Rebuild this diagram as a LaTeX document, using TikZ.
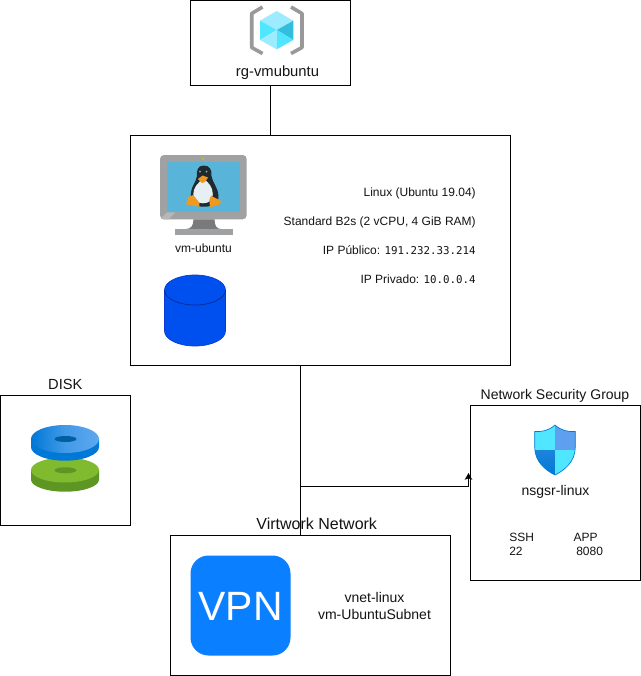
\documentclass[tikz,border=0pt]{standalone}
\usepackage{fontspec}
\setmainfont{Liberation Sans}
\newfontfamily\ipmono{DejaVu Sans Mono}
\usetikzlibrary{arrows.meta,calc}
\definecolor{cubeL}{HTML}{9CEBFF}
\definecolor{cubeM}{HTML}{50E6FF}
\definecolor{cubeD}{HTML}{32BEDD}
\definecolor{brk}{HTML}{999999}
\definecolor{mon}{HTML}{A0A1A2}
\definecolor{monL}{HTML}{B6B7B8}
\definecolor{monD}{HTML}{7A7A7A}
\definecolor{scr}{HTML}{59B4D9}
\definecolor{peng}{HTML}{1F2A30}
\definecolor{belly}{HTML}{E6F0F4}
\definecolor{pengO}{HTML}{EE9A22}
\definecolor{cylF}{HTML}{0050EF}
\definecolor{cylS}{HTML}{0A3AD0}
\definecolor{diskB}{HTML}{0078D7}
\definecolor{diskBL}{HTML}{5EA8EF}
\definecolor{diskH}{HTML}{005F9E}
\definecolor{diskG}{HTML}{7FBA2F}
\definecolor{diskGD}{HTML}{5E9624}
\definecolor{shA}{HTML}{50E6FF}
\definecolor{shB}{HTML}{5EA0EF}
\definecolor{shC}{HTML}{0078D4}
\definecolor{vpnB}{HTML}{0A7FFF}
\tikzset{
  boxnode/.style 2 args={draw=black,line width=0.75pt,fill=white,inner sep=0pt,outer sep=0pt,anchor=north west,
    minimum width=#1*0.75pt,minimum height=#2*0.75pt},
  lbl/.style={inner sep=0pt,anchor=base,text=black!92},
  lblL/.style={inner sep=0pt,anchor=base west,text=black!92},
  lblR/.style={inner sep=0pt,anchor=base east,text=black!92},
  fs12/.style={font=\fontsize{9}{10.8}\selectfont},
  fs14/.style={font=\fontsize{10.5}{12.6}\selectfont},
  fs16/.style={font=\fontsize{12}{14.4}\selectfont},
  wire/.style={draw=black,line width=0.75pt},
}
\begin{document}
\begin{tikzpicture}[x=0.75pt,y=-0.75pt]
\useasboundingbox[fill=white] (0,0) rectangle (641,676);
% boxes
\node[boxnode={160}{85}] (rg) at (190.5,0.5) {};
\node[boxnode={380}{230}] (vm) at (130.5,135.5) {};
\node[boxnode={130}{130}] (disk) at (0.5,395.5) {};
\node[boxnode={170}{175}] (nsg) at (470.5,405.5) {};
\node[boxnode={280}{140}] (vnet) at (170.5,535.5) {};
% connectors
\coordinate (vmout) at ($(vm.south)+(-20,0)$);
\coordinate (vnetin) at ($(vnet.north)+(-10,0)$);
\coordinate (junc) at ($(vmout)!0.71!(vnetin)$);
\coordinate (nsgin) at ($(nsg.west)+(-2,-20)$);
\draw[wire] (rg.south) -- (rg.south |- vm.north);
\draw[wire] (vmout) -- (vnetin);
\draw[wire,-{Stealth[length=5pt,width=5.5pt,inset=1pt]}] (junc) -| (nsgin);
% resource group icon
\fill[cubeL] (276.7,11) -- (293.3,20.7) -- (276.7,30) -- (260,20.7) -- cycle;
\fill[cubeM] (260,20.7) -- (276.7,30) -- (260,40) -- cycle;
\fill[cubeL] (260,40) -- (276.7,30) -- (276.7,49.3) -- cycle;
\fill[cubeD] (293.3,20.7) -- (293.3,40) -- (276.7,30) -- cycle;
\fill[cubeM] (293.3,40) -- (276.7,49.3) -- (276.7,30) -- cycle;
\draw[brk,line width=2.7pt,line join=round] (262.5,7) -- (251.7,13.5) -- (251.7,47.5) -- (262.5,53.5);
\draw[brk,line width=2.7pt,line join=round] (291,7) -- (302,13.5) -- (302,47.5) -- (291,53.5);
\node[lbl,font=\fontsize{11.1}{13}\selectfont] (rgt) at (277.5,76) {rg-vmubuntu};
% monitor icon
\fill[mon,rounded corners=3pt] (160,155) rectangle (246.7,219.3);
\fill[monL] (161,218.5) -- (167,212.3) -- (175,212.3) -- (169,219.3) -- (163,219.3) -- cycle;
\fill[scr] (166.7,162) rectangle (240,212.3);
\fill[yellow!70!green] (203,158.7) circle (1);
\fill[monD] (193.5,219.3) -- (214.5,219.3) .. controls (214.5,226) and (217,229) .. (221,229) -- (186,229) .. controls (190.5,229) and (193.5,226) .. (193.5,219.3) -- cycle;
\fill[mon] (175,229) rectangle (233,235);
% penguin
\fill[peng] (203.5,165.5) .. controls (197.5,165.5) and (196.5,171) .. (197,176) .. controls (196,183) and (190,187) .. (191,197) .. controls (191.5,203) and (195,206.7) .. (204,206.7) .. controls (213,206.7) and (219,203) .. (218.5,196) .. controls (218,187) and (212.5,183) .. (211.5,176) .. controls (212,170) and (210,165.5) .. (203.5,165.5) -- cycle;
\fill[belly] (203.5,179) .. controls (198,182) and (193.3,188) .. (193.3,194) .. controls (193.3,200) and (197,203.3) .. (203,203.3) .. controls (209,203.3) and (212.8,200) .. (212.8,194) .. controls (212.8,188) and (209,182) .. (203.5,179) -- cycle;
\fill[belly!70!black] (200,171.5) circle (1);
\fill[belly!70!black] (206.5,171.5) circle (1);
\fill[pengO] (198,179) -- (202.5,175.5) -- (208,177.5) -- (205,182) -- (202,183) -- cycle;
\fill[pengO] (193.3,195) -- (199.3,202.7) -- (199.3,206.7) -- (186,204.3) -- (188.3,197) -- cycle;
\fill[pengO] (211,195.7) -- (221.7,201.3) -- (218.3,205) -- (210,207.3) -- (209.3,200) -- cycle;
\node[lbl,fs12] (vmt) at (203.5,252.5) {vm-ubuntu};
% cylinder
\draw[cylS,fill=cylF,line width=0.5pt] (164.5,290) -- (164.5,331) arc[start angle=180,end angle=360,x radius=30.5,y radius=-15] -- (225.5,290) arc[start angle=0,end angle=-180,x radius=30.5,y radius=15] -- cycle;
\draw[cylS!70!black,line width=0.5pt] (164.5,290) arc[start angle=180,end angle=360,x radius=30.5,y radius=-15];
% vm details
\node[lblR,fs12] (l1) at (476,196.5) {Linux (Ubuntu 19.04)};
\node[lblR,fs12] (l2) at (476,225.5) {Standard B2s (2 vCPU, 4 GiB RAM)};
\node[lblR,fs12] (l3) at (476,254.5) {IP Público: {\ipmono\fontsize{8.1}{10}\selectfont 191.232.33.214}};
\node[lblR,fs12] (l4) at (476,283.5) {IP Privado: {\ipmono\fontsize{8.1}{10}\selectfont 10.0.0.4}};
% disk
\node[lbl,font=\fontsize{11}{13}\selectfont] (diskt) at (65.3,389) {DISK};
\fill[diskGD] (31,470) -- (31,479.7) arc[start angle=180,end angle=360,x radius=34,y radius=-12] -- (99,470) -- cycle;
\fill[diskG] (65,470) ellipse [x radius=34,y radius=12.5];
\fill[diskGD] (65.5,470.3) ellipse [x radius=11,y radius=3];
\fill[diskB] (31,439) -- (31,447) arc[start angle=180,end angle=360,x radius=34,y radius=-13.7] -- (99,439) -- cycle;
\shade[left color=diskB,right color=diskBL,middle color=diskBL!70!diskB] (65,439) ellipse [x radius=34,y radius=14];
\fill[diskH] (65.5,439) ellipse [x radius=11,y radius=3];
% shield
\begin{scope}
\clip (555,425) .. controls (549,430.5) and (542,432) .. (534.7,431.5) -- (534.7,447) .. controls (534.7,462) and (546,470.5) .. (555,475) .. controls (564,470.5) and (575.3,462) .. (575.3,447) -- (575.3,431.5) .. controls (568,432) and (561,430.5) .. (555,425) -- cycle;
\fill[shA] (530,420) rectangle (555,450);
\fill[shB] (555,420) rectangle (580,450);
\shade[top color=shC!70!shB,bottom color=shC] (530,450) rectangle (555,476);
\fill[shA] (555,450) rectangle (580,480);
\end{scope}
\draw[shC,line width=0.5pt] (555,425) .. controls (549,430.5) and (542,432) .. (534.7,431.5) -- (534.7,447) .. controls (534.7,462) and (546,470.5) .. (555,475) .. controls (564,470.5) and (575.3,462) .. (575.3,447) -- (575.3,431.5) .. controls (568,432) and (561,430.5) .. (555,425) -- cycle;
% nsg texts
\node[lbl,fs14] (nsgh) at (555,399) {Network Security Group};
\node[lbl,fs14] (nsgt) at (555.5,495) {nsgsr-linux};
\node[lblL,fs12] (ssh) at (509,541) {SSH};
\node[lblL,fs12] (p22) at (509,555) {22};
\node[lblL,fs12] (app) at (573.3,541) {APP};
\node[lblL,fs12] (p80) at (576,555) {8080};
% vnet
\node[lbl,fs16] (vnh) at (316.7,529) {Virtwork Network};
\fill[vpnB,rounded corners=13.5pt] (190.5,555.5) rectangle (290.5,655.5);
\node[lbl,text=white,font=\fontsize{30.7}{36}\selectfont] (vpn) at (240.5,620.5) {VPN};
\node[lbl,fs14] (vn1) at (374.5,602) {vnet-linux};
\node[lbl,fs14] (vn2) at (374.5,619) {vm-UbuntuSubnet};
\end{tikzpicture}
\end{document}
